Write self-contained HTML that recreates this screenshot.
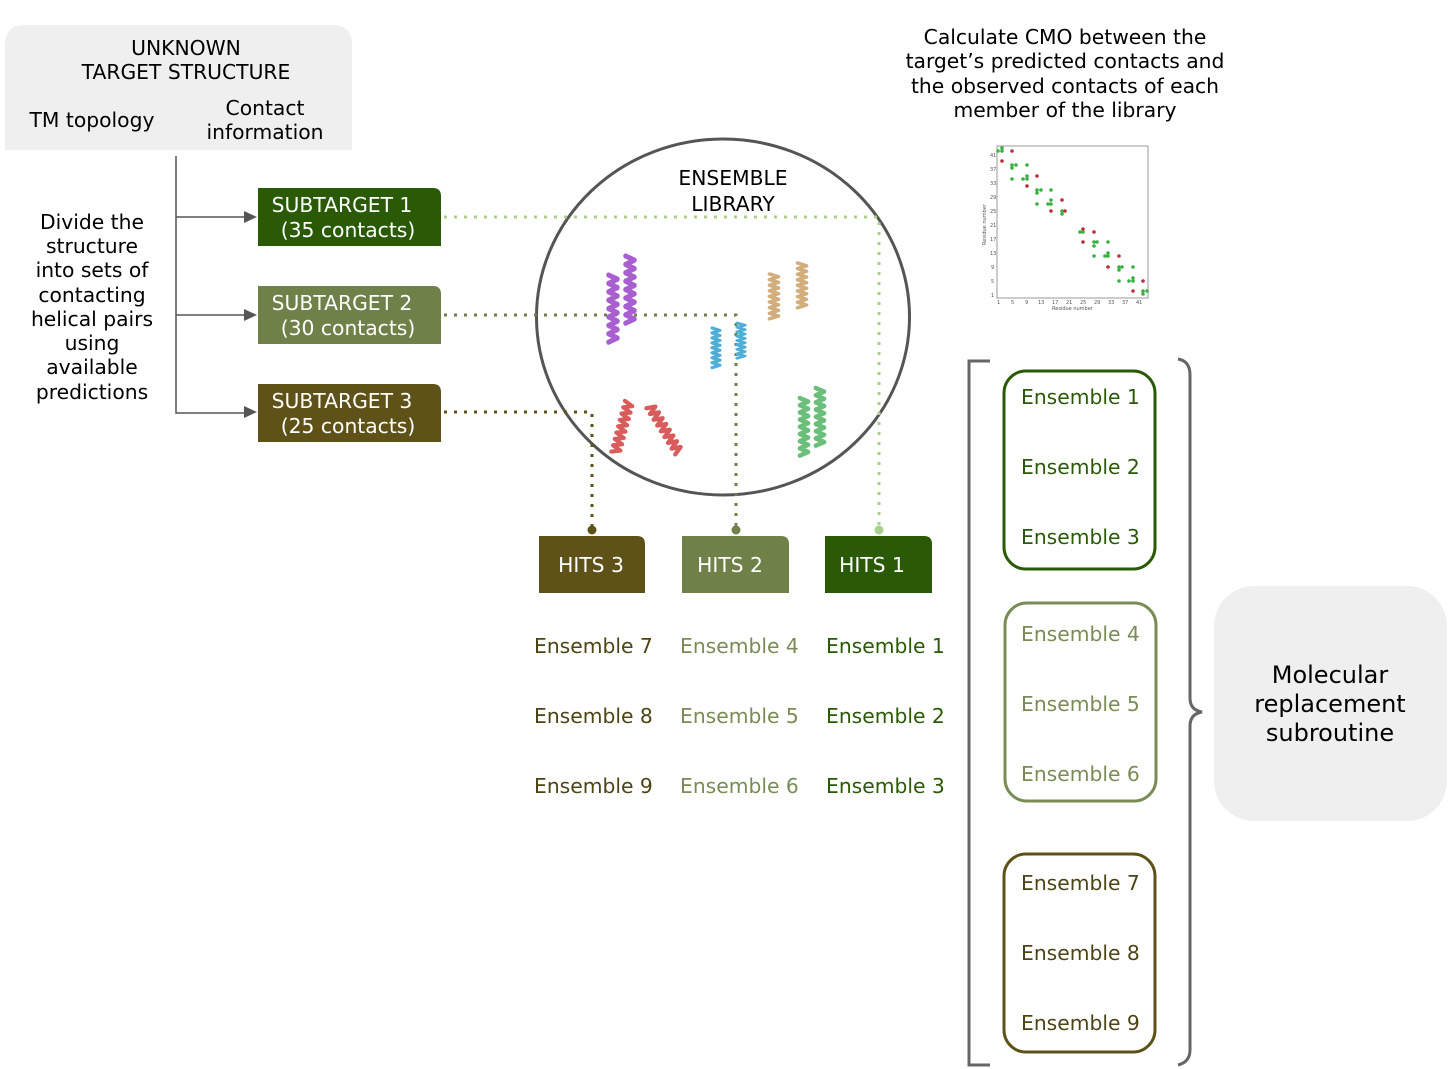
<!DOCTYPE html>
<html><head><meta charset="utf-8"><style>
html,body{margin:0;padding:0;background:#fff}
svg{display:block}
text{font-family:"DejaVu Sans","Liberation Sans",sans-serif;font-size:20.3px}
text.s{font-size:5px}
text.b{font-size:24px}
</style></head><body>
<svg width="1452" height="1069" viewBox="0 0 1452 1069" xmlns="http://www.w3.org/2000/svg">
<defs>
<path id="hx" d="M-5 0 l10 4 l-10 4 l10 4 l-10 4 l10 4 l-10 4 l10 4 l-10 4 l10 4 l-10 4 l10 4 l-10 4 l10 4 l-10 4 l10 4 l-10 4" fill="none" stroke-width="5" stroke-linecap="round" stroke-linejoin="round"/>
</defs>
<path d="M5 150 V45 Q5 25 25 25 H332 Q352 25 352 45 V150 Z" fill="#efefef"/>
<text x="186" y="55" text-anchor="middle">UNKNOWN</text>
<text x="186" y="79" text-anchor="middle">TARGET STRUCTURE</text>
<text x="92" y="127" text-anchor="middle">TM topology</text>
<text x="265" y="115" text-anchor="middle">Contact</text>
<text x="265" y="139" text-anchor="middle">information</text>
<g text-anchor="middle">
<text x="92" y="229">Divide the</text>
<text x="92" y="253">structure</text>
<text x="92" y="277">into sets of</text>
<text x="92" y="302">contacting</text>
<text x="92" y="326">helical pairs</text>
<text x="92" y="350">using</text>
<text x="92" y="374">available</text>
<text x="92" y="399">predictions</text>
</g>
<g stroke="#555" stroke-width="1.5" fill="none">
<path d="M176 156 V413 H245 M176 217 H245 M176 315 H245"/>
</g>
<g fill="#555">
<path d="M244 211 L257 217 L244 223 Z"/><path d="M244 309 L257 315 L244 321 Z"/><path d="M244 406 L257 412 L244 418 Z"/>
</g>
<path d="M258 246 V188 H433 Q441 188 441 196 V246 Z" fill="#2a5a06"/>
<path d="M258 344 V286 H433 Q441 286 441 294 V344 Z" fill="#6f8048"/>
<path d="M258 442 V384 H433 Q441 384 441 392 V442 Z" fill="#5e5219"/>
<g fill="#fff" text-anchor="middle">
<text x="342" y="212">SUBTARGET 1</text><text x="348" y="237">(35 contacts)</text>
<text x="342" y="310">SUBTARGET 2</text><text x="348" y="335">(30 contacts)</text>
<text x="342" y="408">SUBTARGET 3</text><text x="348" y="433">(25 contacts)</text>
</g>
<ellipse cx="723" cy="317" rx="186.5" ry="178" fill="none" stroke="#555" stroke-width="3"/>
<text x="733" y="185" text-anchor="middle">ENSEMBLE</text>
<text x="733" y="211" text-anchor="middle">LIBRARY</text>
<g fill="none" stroke-width="3" stroke-dasharray="3 7">
<path d="M444 217 H879 V528" stroke="#a8d08d"/>
<path d="M444 315 H736 V528" stroke="#6f8048"/>
<path d="M444 412 H592 V528" stroke="#5e5219"/>
</g>
<circle cx="879" cy="530" r="4.5" fill="#a8d08d"/>
<circle cx="736" cy="530" r="4.5" fill="#6f8048"/>
<circle cx="592" cy="530" r="4.5" fill="#5e5219"/>
<g stroke="#a85fd0"><use href="#hx" transform="translate(613,275) scale(0.9,1.05)"/><use href="#hx" transform="translate(630,256) scale(0.9,1.05)"/></g>
<g stroke="#d2ae7c"><use href="#hx" transform="translate(774,274) scale(0.85,0.7)"/><use href="#hx" transform="translate(802,263) scale(0.85,0.7)"/></g>
<g stroke="#4eaed6"><use href="#hx" transform="translate(716,328) scale(0.75,0.62)"/><use href="#hx" transform="translate(741,323) scale(0.75,0.55)"/></g>
<g stroke="#d95c5c"><use href="#hx" transform="translate(629,402) rotate(15) scale(0.85,0.82)"/><use href="#hx" transform="translate(650,406) rotate(-32) scale(0.85,0.85)"/></g>
<g stroke="#6cbf7a"><use href="#hx" transform="translate(804,398) scale(0.85,0.9)"/><use href="#hx" transform="translate(820,388) scale(0.85,0.9)"/></g>
<path d="M539 593 V536 H637 Q645 536 645 544 V593 Z" fill="#5e5219"/>
<path d="M682 593 V536 H781 Q789 536 789 544 V593 Z" fill="#6f8048"/>
<path d="M825 593 V536 H924 Q932 536 932 544 V593 Z" fill="#2a5a06"/>
<g fill="#fff" text-anchor="middle">
<text x="591" y="572">HITS 3</text><text x="730" y="572">HITS 2</text><text x="872" y="572">HITS 1</text>
</g>
<g fill="#4d4416"><text x="534" y="653">Ensemble 7</text><text x="534" y="723">Ensemble 8</text><text x="534" y="793">Ensemble 9</text></g>
<g fill="#7a8c55"><text x="680" y="653">Ensemble 4</text><text x="680" y="723">Ensemble 5</text><text x="680" y="793">Ensemble 6</text></g>
<g fill="#2a5a06"><text x="826" y="653">Ensemble 1</text><text x="826" y="723">Ensemble 2</text><text x="826" y="793">Ensemble 3</text></g>
<g text-anchor="middle">
<text x="1065" y="44">Calculate CMO between the</text>
<text x="1065" y="68">target’s predicted contacts and</text>
<text x="1065" y="93">the observed contacts of each</text>
<text x="1065" y="117">member of the library</text>
</g>
<rect x="997" y="146" width="151" height="152" fill="#fff" stroke="#999" stroke-width="1"/>
<g fill="#555">
<text class="s" x="990" y="157">41</text><text class="s" x="990" y="171">37</text><text class="s" x="990" y="185">33</text><text class="s" x="990" y="199">29</text><text class="s" x="990" y="213">25</text><text class="s" x="990" y="227">21</text><text class="s" x="990" y="241">17</text><text class="s" x="990" y="255">13</text><text class="s" x="991" y="269">9</text><text class="s" x="991" y="283">5</text><text class="s" x="991" y="297">1</text>
<text class="s" x="997" y="304">1</text><text class="s" x="1011" y="304">5</text><text class="s" x="1025" y="304">9</text><text class="s" x="1038" y="304">13</text><text class="s" x="1052" y="304">17</text><text class="s" x="1066" y="304">21</text><text class="s" x="1080" y="304">25</text><text class="s" x="1094" y="304">29</text><text class="s" x="1108" y="304">33</text><text class="s" x="1122" y="304">37</text><text class="s" x="1136" y="304">41</text>
<text class="s" x="1052" y="310">Residue number</text>
<text class="s" x="986" y="245" transform="rotate(-90 986 245)">Residue number</text>
</g>
<g fill="#3cb043">
<circle cx="998" cy="151" r="1.8"/><circle cx="1002" cy="151" r="1.8"/><circle cx="1002" cy="148" r="1.8"/><circle cx="1012" cy="165" r="1.8"/><circle cx="1012" cy="168" r="1.8"/><circle cx="1016" cy="165" r="1.8"/><circle cx="1012" cy="179" r="1.8"/><circle cx="1023" cy="179" r="1.8"/><circle cx="1027" cy="179" r="1.8"/><circle cx="1027" cy="176" r="1.8"/><circle cx="1027" cy="165" r="1.8"/><circle cx="1037" cy="193" r="1.8"/><circle cx="1037" cy="190" r="1.8"/><circle cx="1041" cy="190" r="1.8"/><circle cx="1037" cy="204" r="1.8"/><circle cx="1048" cy="204" r="1.8"/><circle cx="1051" cy="204" r="1.8"/><circle cx="1051" cy="200" r="1.8"/><circle cx="1051" cy="190" r="1.8"/><circle cx="1062" cy="211" r="1.8"/><circle cx="1062" cy="214" r="1.8"/><circle cx="1080" cy="232" r="1.8"/><circle cx="1083" cy="232" r="1.8"/><circle cx="1094" cy="242" r="1.8"/><circle cx="1094" cy="246" r="1.8"/><circle cx="1097" cy="242" r="1.8"/><circle cx="1094" cy="256" r="1.8"/><circle cx="1105" cy="256" r="1.8"/><circle cx="1108" cy="256" r="1.8"/><circle cx="1108" cy="253" r="1.8"/><circle cx="1108" cy="242" r="1.8"/><circle cx="1119" cy="267" r="1.8"/><circle cx="1119" cy="270" r="1.8"/><circle cx="1122" cy="267" r="1.8"/><circle cx="1119" cy="281" r="1.8"/><circle cx="1129" cy="281" r="1.8"/><circle cx="1133" cy="281" r="1.8"/><circle cx="1133" cy="278" r="1.8"/><circle cx="1133" cy="267" r="1.8"/><circle cx="1143" cy="291" r="1.8"/><circle cx="1143" cy="294" r="1.8"/><circle cx="1147" cy="291" r="1.8"/>
</g>
<g fill="#b8323a">
<circle cx="1002" cy="161" r="1.8"/><circle cx="1012" cy="151" r="1.8"/><circle cx="1027" cy="186" r="1.8"/><circle cx="1037" cy="176" r="1.8"/><circle cx="1051" cy="211" r="1.8"/><circle cx="1062" cy="200" r="1.8"/><circle cx="1065" cy="211" r="1.8"/><circle cx="1083" cy="229" r="1.8"/><circle cx="1083" cy="242" r="1.8"/><circle cx="1094" cy="232" r="1.8"/><circle cx="1108" cy="267" r="1.8"/><circle cx="1119" cy="256" r="1.8"/><circle cx="1133" cy="291" r="1.8"/><circle cx="1143" cy="281" r="1.8"/>
</g>
<path d="M990 361 H969 V1065 H990" fill="none" stroke="#666" stroke-width="3"/>
<path d="M1178 359 Q1190 361 1190 375 V698 Q1190 710 1202 712 Q1190 714 1190 726 V1050 Q1190 1062 1178 1065" fill="none" stroke="#666" stroke-width="3"/>
<rect x="1004" y="371" width="151" height="198" rx="22" fill="none" stroke="#2a5a06" stroke-width="3"/>
<rect x="1005" y="603" width="151" height="198" rx="22" fill="none" stroke="#7a8c55" stroke-width="3"/>
<rect x="1004" y="854" width="151" height="198" rx="22" fill="none" stroke="#5e5219" stroke-width="3"/>
<g fill="#2a5a06"><text x="1021" y="404">Ensemble 1</text><text x="1021" y="474">Ensemble 2</text><text x="1021" y="544">Ensemble 3</text></g>
<g fill="#7a8c55"><text x="1021" y="641">Ensemble 4</text><text x="1021" y="711">Ensemble 5</text><text x="1021" y="781">Ensemble 6</text></g>
<g fill="#4d4416"><text x="1021" y="890">Ensemble 7</text><text x="1021" y="960">Ensemble 8</text><text x="1021" y="1030">Ensemble 9</text></g>
<rect x="1214" y="586" width="233" height="235" rx="40" fill="#efefef"/>
<g text-anchor="middle"><text class="b" x="1330" y="683">Molecular</text><text class="b" x="1330" y="712">replacement</text><text class="b" x="1330" y="741">subroutine</text></g>
</svg>
</body></html>
